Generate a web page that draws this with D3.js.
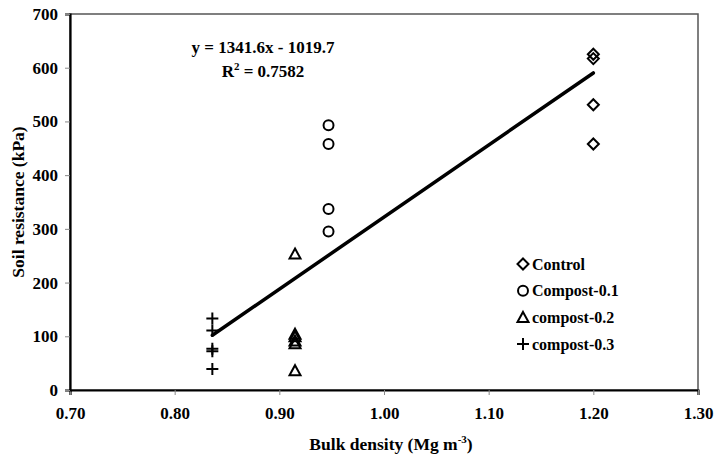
<!DOCTYPE html>
<html>
<head>
<meta charset="utf-8">
<script src="https://cdn.jsdelivr.net/npm/d3@7"></script>
<style>
  html, body { margin: 0; padding: 0; background: #fff; }
  svg text { font-family: "Liberation Serif", "Times New Roman", serif; font-weight: bold; fill: #000; }
</style>
</head>
<body>
<svg id="chart" width="716" height="455"></svg>
<script>
// Bulk density (x) and soil resistance (y) per treatment
const seriesNames = ["Control", "Compost-0.1", "compost-0.2", "compost-0.3"];
const controlX = [1.20, 1.20, 1.20, 1.20];
const controlY = [625, 617, 531, 458];
const compost01X = [0.947, 0.947, 0.947, 0.947];
const compost01Y = [493, 458, 337, 295];
const compost02X = [0.915, 0.915, 0.915, 0.915, 0.915, 0.915];
const compost02Y = [253, 104, 99, 91, 86, 36];
const compost03X = [0.836, 0.836, 0.836, 0.836, 0.836];
const compost03Y = [133, 111, 77, 72, 39];

// Linear fit y = slope * x + intercept
const fitSlope = 1341.6;
const fitIntercept = -1019.7;
const fitRange = [0.836, 1.20];
const fitLabel = "y = 1341.6x - 1019.7";
const r2Label = "0.7582";

const xTicks = [0.70, 0.80, 0.90, 1.00, 1.10, 1.20, 1.30];
const yTicks = [0, 100, 200, 300, 400, 500, 600, 700];

const svg = d3.select("#chart");
const plotLeft = 70, plotRight = 698, plotTop = 14, plotBottom = 390;
const tickFont = 17, titleFont = 17.5, noteFont = 17, legendFont = 16;

const x = d3.scaleLinear().domain([0.70, 1.30]).range([plotLeft, plotRight]);
const y = d3.scaleLinear().domain([0, 700]).range([plotBottom, plotTop]);

// plot border (top/right)
svg.append("rect")
  .attr("x", plotLeft).attr("y", plotTop)
  .attr("width", plotRight - plotLeft).attr("height", plotBottom - plotTop)
  .attr("fill", "none").attr("stroke", "#555").attr("stroke-width", 1.5);

// axes
const xAxis = d3.axisBottom(x).tickValues(xTicks).tickSize(5).tickPadding(12)
  .tickFormat(d3.format(".2f"));
const gx = svg.append("g").attr("transform", `translate(0,${plotBottom})`).call(xAxis);
gx.select(".domain").attr("stroke", "#000").attr("stroke-width", 2.2);
gx.selectAll(".tick line").attr("stroke", "#888").attr("stroke-width", 1);
gx.selectAll(".tick text").attr("font-size", tickFont).attr("font-family", "Liberation Serif").attr("font-weight", "bold");

const yAxis = d3.axisLeft(y).tickValues(yTicks).tickSize(5).tickPadding(7);
const gy = svg.append("g").attr("transform", `translate(${plotLeft},0)`).call(yAxis);
gy.select(".domain").attr("stroke", "#000").attr("stroke-width", 2.2);
gy.selectAll(".tick line").attr("stroke", "#888").attr("stroke-width", 1);
gy.selectAll(".tick text").attr("font-size", tickFont).attr("font-family", "Liberation Serif").attr("font-weight", "bold");

// axis titles
const xt = svg.append("text").attr("x", 391).attr("y", 450).attr("text-anchor", "middle").attr("font-size", titleFont);
xt.append("tspan").text("Bulk density (Mg m");
xt.append("tspan").attr("dy", -7).attr("font-size", 11).text("-3");
xt.append("tspan").attr("dy", 7).text(")");

svg.append("text")
  .attr("transform", "translate(24,202) rotate(-90)")
  .attr("text-anchor", "middle").attr("font-size", titleFont)
  .text("Soil resistance (kPa)");

// regression line
svg.append("line")
  .attr("x1", x(fitRange[0])).attr("y1", y(fitSlope * fitRange[0] + fitIntercept))
  .attr("x2", x(fitRange[1])).attr("y2", y(fitSlope * fitRange[1] + fitIntercept))
  .attr("stroke", "#000").attr("stroke-width", 3.5).attr("stroke-linecap", "round");

// equation
svg.append("text").attr("x", 263).attr("y", 53).attr("text-anchor", "middle").attr("font-size", noteFont).text(fitLabel);
const r2 = svg.append("text").attr("x", 263).attr("y", 77).attr("text-anchor", "middle").attr("font-size", noteFont);
r2.append("tspan").text("R");
r2.append("tspan").attr("dy", -7).attr("font-size", 11).text("2");
r2.append("tspan").attr("dy", 7).text(" = " + r2Label);

const seriesData = [
  d3.zip(controlX, controlY),
  d3.zip(compost01X, compost01Y),
  d3.zip(compost02X, compost02Y),
  d3.zip(compost03X, compost03Y)
];

// marker outline for each series
function markerPath(i) {
  if (i === 3) return "M-6,0H6M0,-6V6";
  if (i === 2) return "M0,-5.5L5.5,4.5L-5.5,4.5Z";
  if (i === 0) return "M0,-5.5L5.5,0L0,5.5L-5.5,0Z";
  return d3.symbol().type(d3.symbolCircle).size(78)();
}

seriesData.forEach((pts, i) => {
  svg.append("g").selectAll("path").data(pts).join("path")
    .attr("transform", d => `translate(${x(d[0])},${y(d[1])})`)
    .attr("d", markerPath(i))
    .attr("fill", "none").attr("stroke", "#000").attr("stroke-width", 2);
});

// legend
const legend = svg.append("g");
seriesNames.forEach((name, i) => {
  const yy = 264 + i * 26.7;
  legend.append("path")
    .attr("transform", `translate(523,${yy})`)
    .attr("d", markerPath(i))
    .attr("fill", "none").attr("stroke", "#000").attr("stroke-width", 2);
  legend.append("text").attr("x", 532).attr("y", yy + 5.5).attr("font-size", legendFont).text(name);
});
</script>
</body>
</html>
